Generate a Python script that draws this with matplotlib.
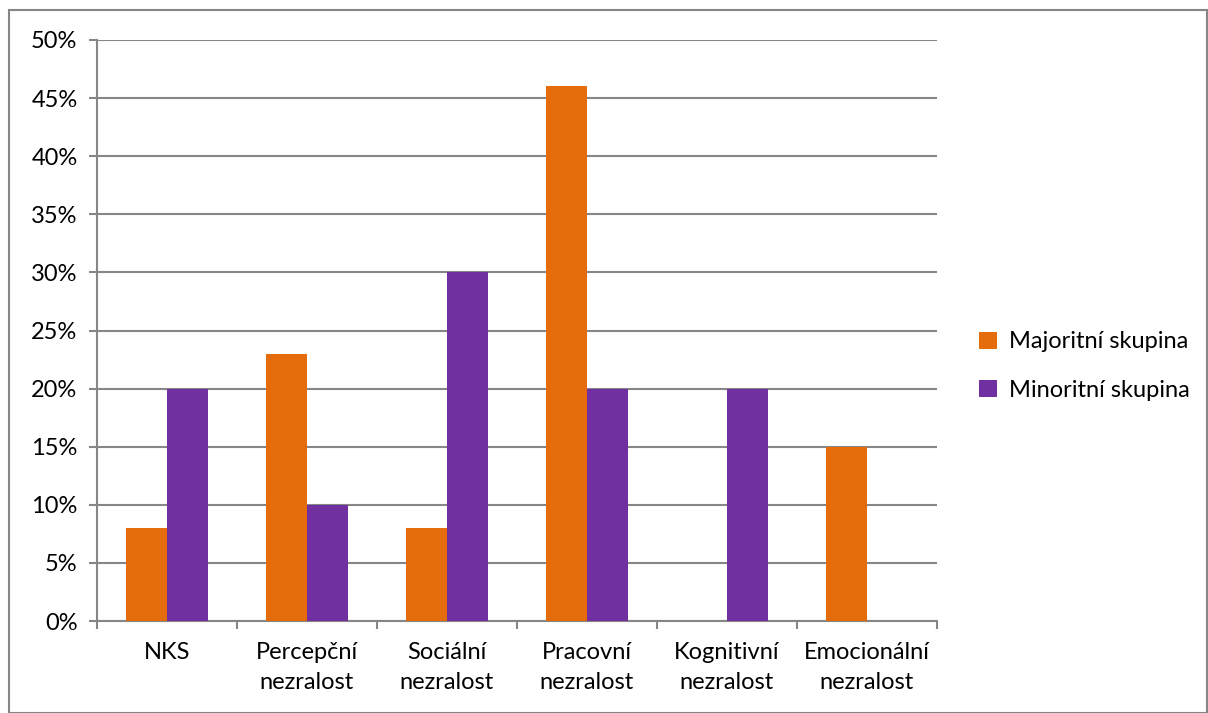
import matplotlib
matplotlib.use("Agg")
import matplotlib.pyplot as plt
import numpy as np
from matplotlib.patches import Rectangle
from matplotlib.ticker import FuncFormatter

# Data
categories = ["NKS", "Percepční\nnezralost", "Sociální\nnezralost",
              "Pracovní\nnezralost", "Kognitivní\nnezralost", "Emocionální\nnezralost"]
majoritni = [8, 23, 8, 46, 0, 15]
minoritni = [20, 10, 30, 20, 20, 0]
series_names = ["Majoritní skupina", "Minoritní skupina"]

plt.rcParams["font.family"] = ["Lato", "DejaVu Sans"]
grid_color = "#868686"
fs = 17

fig = plt.figure(figsize=(12.08, 7.13), dpi=100)
ax = fig.add_axes([97 / 1208, 1 - 621 / 713, 840 / 1208, 581 / 713])

x = np.arange(len(categories))
w = 0.29
ax.bar(x - w / 2, majoritni, width=w, color="#E46C0A", label=series_names[0], zorder=3)
ax.bar(x + w / 2, minoritni, width=w, color="#7030A0", label=series_names[1], zorder=3)

ax.set_xlim(-0.5, len(categories) - 0.5)
ax.set_ylim(0, 50)
ax.set_yticks(np.arange(0, 51, 5))
ax.yaxis.set_major_formatter(FuncFormatter(lambda v, p: f"{v:.0f}%"))
ax.yaxis.grid(True, color=grid_color, linewidth=1.5, zorder=0)

# category labels centered, ticks at boundaries
ax.set_xticks(np.arange(-0.5, len(categories), 1.0))
ax.set_xticklabels([])
ax.set_xticks(x, minor=True)
ax.set_xticklabels(categories, minor=True, fontsize=fs, linespacing=1.55)
ax.tick_params(axis="x", which="minor", length=0, pad=15)
ax.tick_params(axis="x", which="major", length=6, width=1.5, color=grid_color)
ax.tick_params(axis="y", length=6, width=1.5, color=grid_color, labelsize=fs, pad=8)

for s in ["top", "right"]:
    ax.spines[s].set_visible(False)
for s in ["left", "bottom"]:
    ax.spines[s].set_color(grid_color)
    ax.spines[s].set_linewidth(1.5)

ax.legend(loc="center left", bbox_to_anchor=(958 / 1208, 1 - 366 / 713),
          bbox_transform=fig.transFigure, frameon=False, fontsize=fs,
          handlelength=0.75, handleheight=0.75, handletextpad=0.5, labelspacing=1.15)

# outer border
fig.patches.append(Rectangle((9 / 1208, 0), 1 - 9 / 1208 - 1 / 1208, 1 - 10 / 713,
                             transform=fig.transFigure, fill=False,
                             edgecolor=grid_color, linewidth=1.5))

fig.savefig("out.png", dpi=100)
